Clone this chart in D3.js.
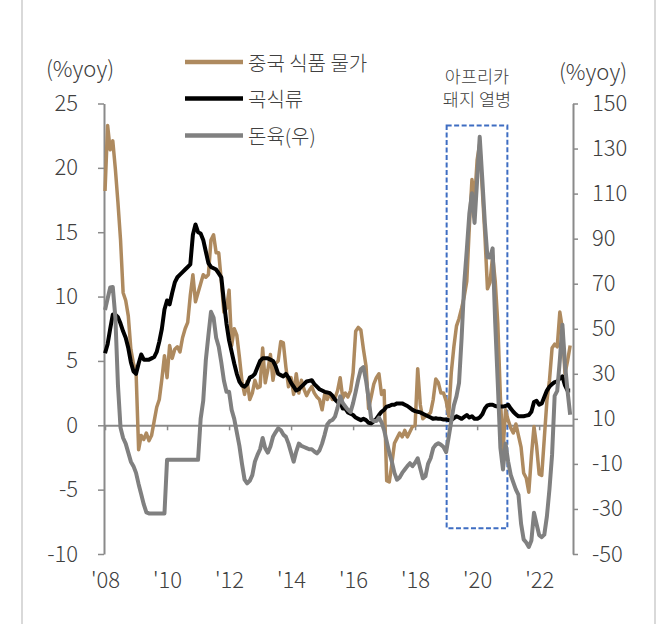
<!DOCTYPE html>
<html>
<head>
<meta charset="utf-8">
<script src="https://cdn.jsdelivr.net/npm/d3@7/dist/d3.min.js"></script>
<style>
  html, body { margin: 0; padding: 0; background: #ffffff; }
  svg { display: block; }
  text { font-family: "Noto Sans CJK KR", "Noto Sans", sans-serif; font-weight: 300; fill: #404040; }
</style>
</head>
<body>
<svg id="chart" width="657" height="624"></svg>
<script>
// ---------------- DATA (monthly, Jan 2008 = index 0 ... Jan 2023) ----------------
const startYear = 2008;
const seriesNames = ["중국 식품 물가", "곡식류", "돈육(우)"];

// 중국 식품 물가 (%yoy, left axis)
const foodCPI = [
  18.2, 23.3, 21.4, 22.1, 19.9, 17.3, 14.4, 10.3, 9.7, 8.5, 5.9, 4.8,
  4.2, -1.9, -0.8, -1.1, -0.6, -1.2, -0.8, 0.3, 1.4, 2.0, 3.6, 5.4,
  3.7, 6.2, 5.2, 5.9, 6.1, 5.7, 6.8, 7.5, 8.0, 10.1, 11.7, 9.6,
  10.3, 11.0, 11.7, 11.5, 11.7, 14.4, 14.8, 13.4, 13.4, 11.2, 8.8, 9.1,
  10.5, 6.2, 7.5, 7.0, 5.3, 3.4, 2.4, 3.4, 2.0, 2.5, 3.5, 2.9,
  3.0, 6.0, 3.3, 4.3, 5.5, 3.5, 4.8, 5.0, 6.5, 6.4, 4.5, 3.0,
  3.7, 2.4, 4.0, 2.5, 3.5, 2.8, 2.3, 2.7, 3.0, 2.5, 2.2, 2.0,
  1.2, 2.4, 2.0, 2.5, 2.0, 2.1, 2.7, 3.7, 2.1, 2.5, 2.2, 2.7,
  4.1, 7.3, 7.6, 7.4, 5.9, 4.6, 1.3, 2.2, 3.2, 3.7, 4.0, 2.4,
  2.7, -4.3, -4.4, -3.0, -1.4, -1.0, -0.6, -0.9, -0.4, -0.9, -0.5, -0.1,
  0.0, 4.4, 1.6, 0.5, 0.7, 0.8, 1.0, 2.0, 3.6, 3.3, 2.5, 2.5,
  1.9, 0.7, 4.1, 6.1, 7.7, 8.3, 9.1, 10.0, 11.2, 15.5, 19.1, 17.4,
  20.6, 21.9, 18.3, 14.8, 10.6, 11.1, 13.2, 11.2, 7.9, 2.2, -2.0, 1.2,
  0.4, -0.2, -0.6, 0.1, -0.8, -1.7, -3.7, -4.1, -5.2, -2.4, -0.1, -1.6,
  -3.8, -3.9, -1.0, 1.9, 3.5, 6.0, 6.3, 6.1, 8.8, 7.5, 4.0, 5.0,
  6.2
];

// 곡식류 (%yoy, left axis)
const grainCPI = [
  5.6, 6.3, 7.5, 8.6, 8.6, 8.4, 7.9, 7.3, 6.8, 6.0, 4.9, 4.2,
  4.0, 4.8, 5.5, 5.1, 5.1, 5.1, 5.2, 5.3, 5.7, 6.5, 7.5, 9.0,
  9.7, 9.4, 10.3, 11.1, 11.5, 11.7, 11.9, 12.1, 12.3, 12.5, 14.8, 15.6,
  15.0, 14.9, 14.4, 13.5, 12.6, 12.3, 12.2, 12.1, 11.8, 11.5, 9.6, 7.9,
  6.6, 5.7, 4.8, 4.0, 3.4, 3.1, 3.0, 3.2, 3.7, 3.8, 4.0, 4.5,
  5.0, 5.2, 5.2, 5.2, 5.1, 5.0, 4.6, 4.0, 3.9, 3.8, 4.0, 3.7,
  3.3, 3.0, 2.7, 2.8, 3.0, 3.2, 3.4, 3.45, 3.5, 3.2, 3.0, 2.8,
  2.7, 2.6, 2.55, 2.5, 2.3, 2.0, 1.8, 1.8, 1.3, 1.3, 1.0, 0.9,
  0.8, 0.6, 0.5, 0.4, 0.5, 0.4, 0.2, 0.15, 0.3, 0.5, 0.8, 1.05,
  1.2, 1.45, 1.5, 1.6, 1.6, 1.7, 1.7, 1.7, 1.6, 1.5, 1.35, 1.2,
  1.1, 1.05, 1.0, 0.9, 0.8, 0.7, 0.6, 0.5, 0.55, 0.5, 0.5, 0.45,
  0.45, 0.4, 0.4, 0.55, 0.7, 0.6, 0.5, 0.65, 0.8, 0.6, 0.7, 0.5,
  0.5, 0.6, 0.85, 1.3, 1.55, 1.6, 1.6, 1.5, 1.45, 1.45, 1.45, 1.5,
  1.6, 1.3, 1.05, 0.85, 0.7, 0.7, 0.7, 0.75, 0.8, 1.05, 1.8, 1.9,
  1.6, 1.7, 2.2, 2.7, 3.0, 3.2, 3.35, 3.4, 3.65, 3.8, 3.1, 2.7,
  2.7
];

// 돈육 (%yoy, right axis)
const porkCPI = [
  58.3, 63.4, 68.3, 68.5, 55.0, 25.0, 6.0, 1.5, -1.0, -5.0, -9.0, -11.0,
  -14.0, -19.0, -23.5, -28.0, -31.5, -32.0, -32.0, -32.0, -32.0, -32.0, -32.0, -32.0,
  -8.2, -8.2, -8.2, -8.2, -8.2, -8.2, -8.2, -8.2, -8.2, -8.2, -8.2, -8.2,
  -8.2, 10.0, 18.0, 36.0, 47.0, 57.5, 55.0, 46.0, 42.0, 35.0, 27.0, 22.0,
  22.0, 14.0, 10.0, 4.0, -2.0, -10.0, -17.0, -18.6, -17.5, -15.0, -9.0, -6.0,
  -3.5, 1.5, -3.0, -5.0, -2.3, 2.0, 4.0, 5.8, 5.0, 3.0, 2.0, -1.0,
  -5.0, -9.0, -4.5, -1.0, -2.0, -2.5, -3.0, -3.5, -3.5, -4.5, -5.3, -4.0,
  -1.0, 3.0, 7.5, 9.0, 9.5, 11.0, 15.0, 20.0, 17.0, 15.5, 14.0, 13.0,
  17.0, 22.0, 27.5, 32.0, 33.0, 27.0, 19.0, 10.0, 9.0, 9.0, 10.5, 8.5,
  5.0, 0.0, -5.0, -9.0, -14.0, -17.0, -16.0, -14.0, -12.5, -11.0, -9.7, -11.0,
  -9.5, -7.5, -12.0, -16.4, -15.5, -10.0, -7.5, -3.0, -1.5, -0.8, -1.5, -2.5,
  -4.8, 2.0, 9.0, 16.0, 20.0, 26.0, 46.0, 70.0, 85.0, 101.3, 110.2, 97.0,
  116.0, 135.2, 116.4, 96.9, 81.7, 81.6, 85.7, 52.6, 25.5, -2.8, -12.5, -1.0,
  -9.0, -14.9, -18.2, -21.4, -23.8, -36.5, -43.5, -44.9, -46.9, -44.0, -31.7, -36.7,
  -41.6, -42.5, -41.4, -33.3, -21.1, -6.0, 20.2, 22.4, 36.0, 51.8, 34.4, 22.2,
  11.8
];

// axis ticks
const leftTicks = [-10, -5, 0, 5, 10, 15, 20, 25];
const rightTicks = [-50, -30, -10, 10, 30, 50, 70, 90, 110, 130, 150];
const xTickYears = [2008, 2010, 2012, 2014, 2016, 2018, 2020, 2022];
const xTickLabels = ["'08", "'10", "'12", "'14", "'16", "'18", "'20", "'22"];
const unitLabel = "(%yoy)";
const annotationLines = ["아프리카", "돼지 열병"];
// annotation box: month index range and left-axis value range
const boxMonths = [132.2, 155.7];
const boxValues = [-8, 23.3];

// ---------------- CHART ----------------
const svg = d3.select("#chart");
const COLORS = { food: "#AE8A5F", grain: "#000000", pork: "#808080", axis: "#8a8a8a", box: "#3E6DC2", frame: "#d9d9d9" };

const x = d3.scaleLinear().domain([-0.4, 181.1]).range([104, 573]);
const yL = d3.scaleLinear().domain([-10, 25]).range([554, 103.5]);
const yR = d3.scaleLinear().domain([-50, 150]).range([554, 103.5]);

// frame lines
svg.append("line").attr("x1", 22).attr("x2", 22).attr("y1", 0).attr("y2", 624)
  .attr("stroke", COLORS.frame).attr("stroke-width", 2);
svg.append("line").attr("x1", 655).attr("x2", 655).attr("y1", 0).attr("y2", 624)
  .attr("stroke", COLORS.frame).attr("stroke-width", 2);

function styleAxis(g) {
  g.select(".domain").attr("stroke", COLORS.axis).attr("stroke-width", 2);
  g.selectAll(".tick line").attr("stroke", COLORS.axis).attr("stroke-width", 1.5);
  g.selectAll(".tick text").attr("fill", "#404040").style("font-size", "22px")
    .style("font-weight", 300)
    .style("font-family", '"Noto Sans CJK KR", "Noto Sans", sans-serif');
}

// left axis
const gL = svg.append("g").attr("transform", "translate(104,0)")
  .call(d3.axisLeft(yL).tickValues(leftTicks).tickSize(6).tickSizeOuter(0).tickPadding(20).tickFormat(d => String(d)));
styleAxis(gL);

// right axis
const gR = svg.append("g").attr("transform", "translate(573,0)")
  .call(d3.axisRight(yR).tickValues(rightTicks).tickSize(5).tickSizeOuter(0).tickPadding(14).tickFormat(d => String(d)));
styleAxis(gR);

// x axis at zero line (ticks only)
const xTickMonths = xTickYears.map(yv => (yv - startYear) * 12);
const gX = svg.append("g").attr("transform", `translate(0,${yL(0)})`)
  .call(d3.axisBottom(x).tickValues(xTickMonths).tickSize(5).tickSizeOuter(0).tickFormat(""));
styleAxis(gX);
// x labels at bottom
const gXL = svg.append("g").attr("transform", `translate(0,554)`)
  .call(d3.axisBottom(x).tickValues(xTickMonths).tickSize(0).tickPadding(18)
    .tickFormat((d, i) => xTickLabels[i]));
gXL.select(".domain").remove();
styleAxis(gXL);

// unit labels
svg.append("text").attr("x", 80).attr("y", 67).attr("text-anchor", "middle").attr("dominant-baseline", "central")
  .style("font-size", "22px").text(unitLabel);
svg.append("text").attr("x", 593).attr("y", 70).attr("text-anchor", "middle").attr("dominant-baseline", "central")
  .style("font-size", "22px").text(unitLabel);

// annotation box
svg.append("rect")
  .attr("x", x(boxMonths[0])).attr("y", yL(boxValues[1]))
  .attr("width", x(boxMonths[1]) - x(boxMonths[0])).attr("height", yL(boxValues[0]) - yL(boxValues[1]))
  .attr("fill", "none").attr("stroke", COLORS.box).attr("stroke-width", 2).attr("stroke-dasharray", "5,2.5");
const annX = (x(boxMonths[0]) + x(boxMonths[1])) / 2;
annotationLines.forEach((t, i) => {
  svg.append("text").attr("x", annX).attr("y", 75 + i * 23.5).attr("text-anchor", "middle")
    .attr("dominant-baseline", "central").style("font-size", "17.5px").text(t);
});

// lines
const lineL = d3.line().x((d, i) => x(i)).y(d => yL(d));
const lineR = d3.line().x((d, i) => x(i)).y(d => yR(d));

svg.append("path").datum(foodCPI).attr("d", lineL).attr("fill", "none")
  .attr("stroke", COLORS.food).attr("stroke-width", 3.5).attr("stroke-linejoin", "round");
svg.append("path").datum(grainCPI).attr("d", lineL).attr("fill", "none")
  .attr("stroke", COLORS.grain).attr("stroke-width", 4).attr("stroke-linejoin", "round");
svg.append("path").datum(porkCPI).attr("d", lineR).attr("fill", "none")
  .attr("stroke", COLORS.pork).attr("stroke-width", 4).attr("stroke-linejoin", "round");

// legend
const legendColors = [COLORS.food, COLORS.grain, COLORS.pork];
const legendY = [62, 98.5, 135.5];
seriesNames.forEach((name, i) => {
  svg.append("line").attr("x1", 185).attr("x2", 243).attr("y1", legendY[i]).attr("y2", legendY[i])
    .attr("stroke", legendColors[i]).attr("stroke-width", 4.5);
  svg.append("text").attr("x", 248).attr("y", legendY[i]).attr("dominant-baseline", "central")
    .style("font-size", "20px").text(name);
});
</script>
</body>
</html>
